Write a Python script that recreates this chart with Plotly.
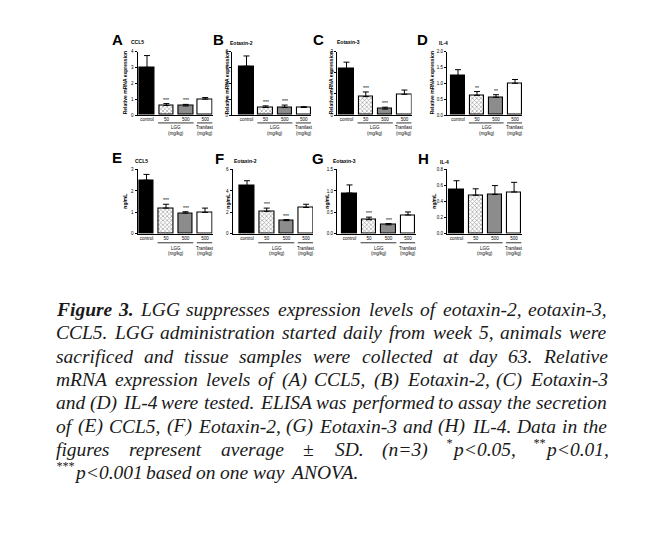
import plotly.graph_objects as go

# the page body keeps the browser's 8px margin, so the figure is drawn
# 8px smaller and every pixel position below is shifted by that offset
W, H = 648, 537
OFF = 8
FW, FH = W - OFF, H - OFF

# ---------------- data ----------------
bar_labels = ["control", "50", "500", "500"]
panel_letters = ["A", "B", "C", "D", "E", "F", "G", "H"]
panel_titles = ["CCL5", "Eotaxin-2", "Eotaxin-3", "IL-4",
                "CCL5", "Eotaxin-2", "Eotaxin-3", "IL-4"]
y_titles = ["Relative mRNA expression"] * 4 + ["ng/mL"] * 4

ccl5_mrna = [3.0, 0.6, 0.57, 1.0]
ccl5_mrna_sd = [0.75, 0.12, 0.1, 0.1]
eotaxin2_mrna = [6.15, 0.95, 0.95, 0.95]
eotaxin2_mrna_sd = [1.3, 0.2, 0.3, 0.1]
eotaxin3_mrna = [2.2, 0.87, 0.28, 0.98]
eotaxin3_mrna_sd = [0.3, 0.22, 0.09, 0.2]
il4_mrna = [1.23, 0.62, 0.56, 1.0]
il4_mrna_sd = [0.2, 0.12, 0.08, 0.12]

ccl5_elisa = [2.5, 1.2, 0.97, 1.0]
ccl5_elisa_sd = [0.27, 0.18, 0.06, 0.2]
eotaxin2_elisa = [4.5, 2.1, 1.23, 2.46]
eotaxin2_elisa_sd = [0.45, 0.3, 0.1, 0.3]
eotaxin3_elisa = [0.95, 0.33, 0.21, 0.44]
eotaxin3_elisa_sd = [0.19, 0.06, 0.03, 0.07]
il4_elisa = [0.55, 0.48, 0.49, 0.52]
il4_elisa_sd = [0.11, 0.08, 0.11, 0.12]

y_ticks = [
    [0, 1, 2, 3, 4], [0, 2, 4, 6, 8], [0, 1, 2, 3], [0, 0.5, 1.0, 1.5, 2.0],
    [0, 1, 2, 3], [0, 2, 4, 6], [0, 0.5, 1.0, 1.5], [0, 0.2, 0.4, 0.6, 0.8],
]
y_tickfmt = ["d", "d", "d", ".1f", "d", "d", ".1f", ".1f"]

stars = [
    ["", "***", "***", ""], ["", "***", "***", ""], ["", "***", "***", ""],
    ["", "**", "**", ""], ["", "***", "***", ""], ["", "***", "***", ""],
    ["", "***", "***", ""], ["", "", "", ""],
]

caption_lines = [
    "Figure 3. LGG suppresses expression levels of eotaxin-2, eotaxin-3,",
    "CCL5. LGG administration started daily from week 5, animals were",
    "sacrificed and tissue samples were collected at day 63. Relative",
    "mRNA expression levels of (A) CCL5, (B) Eotaxin-2, (C) Eotaxin-3",
    "and (D) IL-4 were tested. ELISA was performed to assay the secretion",
    "of (E) CCL5, (F) Eotaxin-2, (G) Eotaxin-3 and (H) IL-4. Data in the",
    "figures represent average \u00b1 SD. (n=3) *p<0.05, **p<0.01,",
    "***p<0.001 based on one way ANOVA.",
]

means = [ccl5_mrna, eotaxin2_mrna, eotaxin3_mrna, il4_mrna,
         ccl5_elisa, eotaxin2_elisa, eotaxin3_elisa, il4_elisa]
sds = [ccl5_mrna_sd, eotaxin2_mrna_sd, eotaxin3_mrna_sd, il4_mrna_sd,
       ccl5_elisa_sd, eotaxin2_elisa_sd, eotaxin3_elisa_sd, il4_elisa_sd]

# ---------------- geometry (pixels in the page) ----------------
# y-axis x, first bar centre, bar pitch, x-axis end
geom = [
    (137.5, 147.0, 19.4, 212.5),
    (232.0, 246.5, 19.1, 311.0),
    (337.0, 346.5, 19.3, 411.5),
    (447.0, 458.0, 19.0, 522.0),
    (137.5, 146.5, 19.5, 212.5),
    (232.5, 247.0, 19.7, 313.0),
    (337.0, 349.5, 19.5, 415.5),
    (447.0, 456.5, 19.2, 522.0),
]
rows = [(50, 114), (169, 234)]          # top tick, zero line
letter_pos = [(117, 38), (218, 38), (318, 38), (422, 38),
              (117, 157), (219, 158), (318, 158), (423, 158)]
title_pos = [(130, 40), (229, 41), (336, 40), (438, 41),
             (134, 160), (233, 160), (332, 160), (439, 161)]
ylabel_x = [125, 227, 331, 432, 125, 228, 327, 434]
group_y = [(122, 127, 132.5), (243, 249, 254)]   # line, LGG, (mg/kg)

SANS = "Arial, Liberation Sans, sans-serif"
SERIF = "Liberation Serif, Times New Roman, serif"


def px(x):
    return (x - OFF) / FW


def py(y):
    return 1 - (y - OFF) / FH


def note(x, y, text, size, family=SANS, xanchor="center", **kw):
    return dict(x=px(x), y=py(y), xref="paper", yref="paper", text=text,
                showarrow=False, xanchor=xanchor, yanchor="middle",
                borderpad=0, font=dict(family=family, size=size,
                                       color=kw.pop("color", "black")), **kw)


fig = go.Figure()
annotations = []
shapes = []

for i in range(8):
    ax_px, c0, pitch, end_px = geom[i]
    top, zero = rows[i // 4]
    xname = "x" if i == 0 else f"x{i + 1}"
    yname = "y" if i == 0 else f"y{i + 1}"
    sfx = "" if i == 0 else str(i + 1)

    fig.add_trace(go.Bar(
        x=[0, 1, 2, 3],
        y=means[i],
        xaxis=xname,
        yaxis=yname,
        width=0.75,
        marker=dict(
            color=["black", "white", "#a0a0a0", "white"],
            line=dict(color="black", width=1.1),
            pattern=dict(
                shape=["", "x", "-", ""],
                fgcolor=["black", "#222222", "#4a4a4a", "black"],
                bgcolor=["black", "#d8d8d8", "#a0a0a0", "white"],
                size=[4, 3, 2, 4],
                solidity=[0.3, 0.4, 0.45, 0.3],
            ),
        ),
        error_y=dict(type="data", symmetric=False, array=sds[i],
                     arrayminus=[0, 0, 0, 0], color="black",
                     thickness=1, width=3),
        hoverinfo="skip",
    ))

    ymax = y_ticks[i][-1]
    fig.layout[f"xaxis{sfx}"] = dict(
        domain=[px(ax_px), px(end_px)],
        range=[-(c0 - ax_px) / pitch, (end_px - c0) / pitch],
        anchor=yname, showline=True, linecolor="black", linewidth=1,
        tickvals=[0, 1, 2, 3], ticktext=bar_labels, ticks="",
        tickfont=dict(family=SANS, size=4.5, color="black"),
        ticklabelstandoff=0,
        showgrid=False, zeroline=False, fixedrange=True,
    )
    fig.layout[f"yaxis{sfx}"] = dict(
        domain=[py(zero), py(top)],
        range=[0, ymax], anchor=xname,
        showline=True, linecolor="black", linewidth=1,
        tickvals=y_ticks[i], tickformat=y_tickfmt[i],
        ticks="outside", ticklen=2, tickwidth=1, tickcolor="black",
        tickfont=dict(family=SANS, size=4.5, color="black"),
        showgrid=False, zeroline=False, fixedrange=True,
    )

    # significance stars
    for k in range(4):
        if stars[i][k]:
            annotations.append(dict(
                x=k, y=means[i][k] + sds[i][k], xref=xname, yref=yname,
                text=stars[i][k], showarrow=False, xanchor="center",
                yanchor="bottom", borderpad=0,
                font=dict(family=SANS, size=5, color="black"),
            ))

    # group lines and labels below the x axis
    ly, lgg_y, unit_y = group_y[i // 4]
    for a, b in [(0.57, 2.4), (2.58, 3.38)]:
        shapes.append(dict(type="line", xref=xname, yref="paper",
                           x0=a, x1=b, y0=py(ly), y1=py(ly),
                           line=dict(color="black", width=0.8)))
    for xc, lab in [(1.5, "LGG"), (3.0, "Tranilast")]:
        for yy, t in [(lgg_y, lab), (unit_y, "(mg/kg)")]:
            annotations.append(dict(
                x=xc, y=py(yy), xref=xname, yref="paper", text=t,
                showarrow=False, xanchor="center", yanchor="middle",
                borderpad=0, font=dict(family=SANS, size=4.5, color="black")))

    # panel letter, title, y title
    lx, lyy = letter_pos[i]
    annotations.append(note(lx, lyy, f"<b>{panel_letters[i]}</b>", 15))
    tx, ty = title_pos[i]
    annotations.append(note(tx, ty, f"<b>{panel_titles[i]}</b>", 5,
                            xanchor="left"))
    annotations.append(note(ylabel_x[i], (top + zero) / 2,
                            f"<b>{y_titles[i]}</b>", 5, textangle=-90))

# ---------------- caption (justified, Times italic metrics) ----------------
TI = {" ": 250, "(": 333, ")": 333, "*": 500, ",": 250, "-": 333, ".": 250,
      "<": 675, "=": 675, "\u00b1": 675,
      "A": 611, "B": 611, "C": 667, "D": 722, "E": 611, "F": 611, "G": 722,
      "H": 722, "I": 333, "L": 556, "N": 667, "O": 722, "R": 611, "S": 500,
      "V": 611, "a": 500, "b": 500, "c": 444, "d": 500, "e": 444, "f": 278,
      "g": 500, "h": 500, "i": 278, "k": 444, "l": 278, "m": 722, "n": 500,
      "o": 500, "p": 500, "r": 389, "s": 389, "t": 278, "u": 500, "v": 444,
      "w": 667, "x": 444, "y": 444}
TBI = {"F": 667, "i": 278, "g": 500, "u": 556, "r": 389, "e": 444, "3": 500,
       ".": 250}
CAP = 19.5
SUP = 12
cap_left, cap_right = 55, 606
cap_y0, cap_dy = 310.5, 23.55


def tw(s, table, size):
    return sum(table.get(ch, 500) for ch in s) * size / 1000


for li, line in enumerate(caption_lines):
    words = []
    for wi, w in enumerate(line.split(" ")):
        sup = w[:len(w) - len(w.lstrip("*"))]
        body = w[len(sup):]
        bold = li == 0 and wi < 2
        wb = tw(body, TBI if bold else TI, CAP)
        ws = len(sup) * 500 * SUP / 1000
        words.append((sup, body, bold, ws, wb))
    total = sum(ws + wb for _, _, _, ws, wb in words)
    if li < len(caption_lines) - 1:
        gap = (cap_right - cap_left - total) / (len(words) - 1)
    else:
        gap = 250 * CAP / 1000
    x = cap_left
    yc = cap_y0 + li * cap_dy
    for sup, body, bold, ws, wb in words:
        if sup:
            annotations.append(note(x, yc - 7, f"<i>{sup}</i>", SUP,
                                    family=SERIF, xanchor="left",
                                    color="#1a1a1a"))
        t = body.replace("<", "&lt;")
        t = f"<b><i>{t}</i></b>" if bold else f"<i>{t}</i>"
        annotations.append(note(x + ws, yc, t, CAP, family=SERIF,
                                xanchor="left", color="#1a1a1a"))
        x += ws + wb + gap

fig.update_layout(
    width=FW, height=FH,
    margin=dict(l=0, r=0, t=0, b=0),
    paper_bgcolor="white", plot_bgcolor="white",
    showlegend=False, bargap=0,
    annotations=annotations, shapes=shapes,
)

fig.write_html("out.html")
